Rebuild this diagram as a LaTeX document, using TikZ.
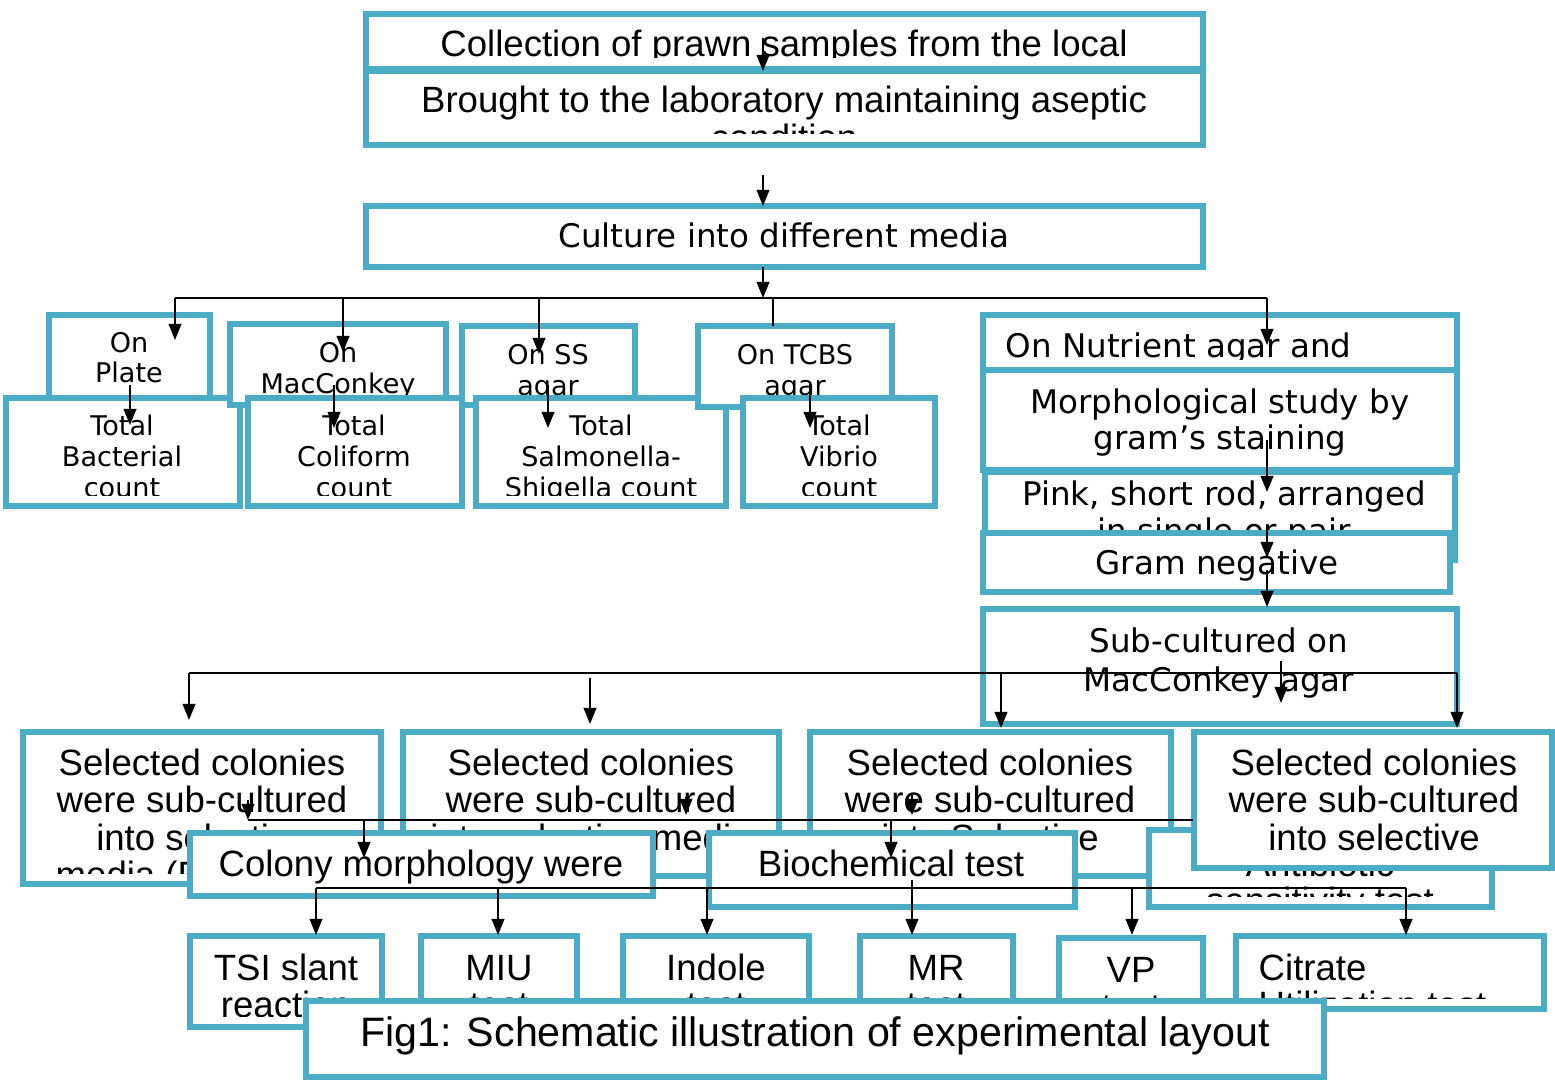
\documentclass[tikz,border=0pt]{standalone}
\usepackage{fontspec}
\setmainfont{DejaVu Sans}
\newfontfamily\narrowfont{Liberation Sans}
\usetikzlibrary{arrows.meta,calc,fit}
\definecolor{boxblue}{HTML}{4BACC6}

\tikzset{
  box/.style={draw=boxblue, fill=white, line width=1.7pt, inner sep=0pt, outer sep=0pt},
  wide/.style={font=\fontsize{9.25}{11}\selectfont, inner sep=0pt},
  small/.style={font=\fontsize{7.7}{9}\selectfont, inner sep=0pt},
  narrow/.style={font=\narrowfont\fontsize{10.4}{12}\selectfont, inner sep=0pt},
  caption/.style={font=\narrowfont\fontsize{11.7}{13}\selectfont, inner sep=0pt},
  wire/.style={line width=0.6pt},
  arr/.style={wire, -{Triangle[length=4.6pt,width=3.6pt]}},
}

% box with its text lines clipped inside: name, top left, bottom right,
% text style, anchor, first baseline, line step, lines
\newcommand{\flowbox}[8]{%
  \node[box, fit={(#2) (#3)}] (#1) {};
  \begin{scope}
    \clip ($(#1.north west)+(4,4)$) rectangle ($(#1.south east)+(-4,-11)$);
    \foreach \boxline [count=\i] in {#8}
      \node[#4, anchor=#5] (#1-\i) at ($(#6)+(0,{(\i-1)*#7})$) {\boxline};
  \end{scope}
}

\begin{document}
\begin{tikzpicture}[x=0.01cm, y=-0.01cm]
  \useasboundingbox (0,0) rectangle (1555,1079);

  % sampling
  \flowbox{coll}{366,14}{1203,69}{narrow}{base}{784,57}{37}{Collection of prawn samples from the local}
  \flowbox{brought}{366,71}{1203,145}{narrow}{base}{784,113}{37}{Brought to the laboratory maintaining aseptic, condition}
  \flowbox{culture}{366,206}{1203,267}{wide}{base}{784,248}{37}{Culture into different media}

  % media and counts
  \flowbox{onplate}{49,315}{210,405}{small}{base}{129,352}{30}{On, Plate}
  \flowbox{totbac}{6,398}{240,506}{small}{base}{122,435}{31}{Total, Bacterial, count}
  \flowbox{onmac}{230,324}{446,405}{small}{base}{338,362}{31}{On, MacConkey}
  \flowbox{totcol}{248,398}{462,506}{small}{base}{354,435}{31}{Total, Coliform, count}
  \flowbox{onss}{462,326}{635,405}{small}{base}{548,364}{31}{On SS, agar}
  \flowbox{totsal}{476,398}{726,506}{small}{base}{601,435}{31}{Total, Salmonella-, Shigella count}
  \flowbox{ontcbs}{698,326}{892,407}{small}{base}{795,364}{31}{On TCBS, agar}
  \flowbox{totvib}{743,398}{935,506}{small}{base}{839,435}{31}{Total, Vibrio, count}

  % identification column
  \flowbox{nutrient}{983,315}{1457,370}{wide}{base west}{1005,357}{37}{On Nutrient agar and}
  \flowbox{morph}{983,370}{1457,470}{wide}{base}{1220,413}{36}{Morphological study by, gram’s staining}
  \flowbox{pink}{985,472}{1455,560}{wide}{base}{1224,505}{37}{{Pink, short rod, arranged}, in single or pair}
  \flowbox{gramneg}{983,533}{1450,592}{wide}{base}{1217,574}{37}{Gram negative}
  \flowbox{subcult}{983,609}{1457,724}{wide}{base}{1219,652}{39}{Sub-cultured on, MacConkey agar}

  % selective media
  \flowbox{sel1}{23,732}{381,884}{narrow}{base}{202,775}{37.5}{Selected colonies, were sub-cultured, into selective, media (R\rule{41pt}{0pt}}
  \flowbox{sel2}{403,732}{779,876}{narrow}{base}{591,775}{37.5}{Selected colonies, were sub-cultured, into selective media}
  \flowbox{sel3}{810,732}{1171,876}{narrow}{base}{990,775}{37.5}{Selected colonies, were sub-cultured, into Selective}
  \flowbox{antib}{1149,830}{1492,907}{narrow}{base}{1320,876}{37}{Antibiotic, sensitivity test}
  \flowbox{sel4}{1194,732}{1552,868}{narrow}{base}{1374,775}{37.5}{Selected colonies, were sub-cultured, into selective}
  \flowbox{colony}{190,833}{653,896}{narrow}{base}{421,876}{37}{Colony morphology were}
  \flowbox{biochem}{709,833}{1075,907}{narrow}{base}{891,876}{37}{Biochemical test}

  % biochemical tests
  \flowbox{tsi}{190,936}{382,1027}{narrow}{base}{286,980}{37}{TSI slant, reaction}
  \flowbox{miu}{421,936}{577,1015}{narrow}{base}{499,980}{37}{MIU, test}
  \flowbox{indole}{623,936}{809,1015}{narrow}{base}{716,980}{37}{Indole, test}
  \flowbox{mr}{860,936}{1013,1015}{narrow}{base}{936,980}{37}{MR, test}
  \flowbox{vp}{1059,938}{1203,1015}{narrow}{base}{1131,982}{37}{VP, test}
  \flowbox{citrate}{1236,936}{1544,1009}{narrow}{base west}{1258,980}{37}{Citrate, Utilization test}
  \flowbox{fig}{306,1001}{1324,1077}{caption}{base}{815,1046}{37}{Fig1: Schematic illustration of experimental layout}

  % connectors
  \coordinate (spine) at (763,38);
  \coordinate (busA) at (175,298);
  \coordinate (busB) at (1267,298);
  \draw[arr] (spine) -- (spine |- brought.north);
  \draw[arr] (763,175) -- (spine |- culture.north);
  \draw[arr] (spine |- culture.south) -- (spine |- busA);
  \draw[wire] (busA) -- (busB);
  \foreach \x/\y in {175/340, 343/352, 539/354, 1267/345}
    \draw[arr] (\x,298) -- (\x,\y);
  \draw[wire] (773,298) -- (773,326);
  \foreach \x/\ya/\yb in {130/385/425, 334/385/428, 548/385/428, 810/383/428,
                          1267/440/492, 1267/530/558, 1267/570/607}
    \draw[arr] (\x,\ya) -- (\x,\yb);

  % from sub-culture to the selective media
  \coordinate (busC) at (189,673);
  \coordinate (busD) at (1457,673);
  \draw[wire] (busC) -- (busD);
  \foreach \x/\ya/\yb in {189/673/720, 590/678/724, 1001/673/728, 1457/673/728, 1281/661/703}
    \draw[arr] (\x,\ya) -- (\x,\yb);

  % to colony morphology and biochemical test
  \coordinate (busE) at (248,820);
  \coordinate (busF) at (1193,820);
  \draw[wire] (busE) -- (busF);
  \foreach \x/\ya/\yb in {248/800/820, 686/797/815, 912/795/815, 364/820/858, 891/820/858}
    \draw[arr] (\x,\ya) -- (\x,\yb);

  % to the single tests
  \coordinate (busG) at (316,888);
  \coordinate (busH) at (1406,888);
  \draw[wire] (busG) -- (busH);
  \foreach \x in {316, 498, 707, 1132, 1406}
    \draw[arr] (\x,888) -- (\x,935);
  \draw[arr] (912,880) -- (912,935);
\end{tikzpicture}
\end{document}
